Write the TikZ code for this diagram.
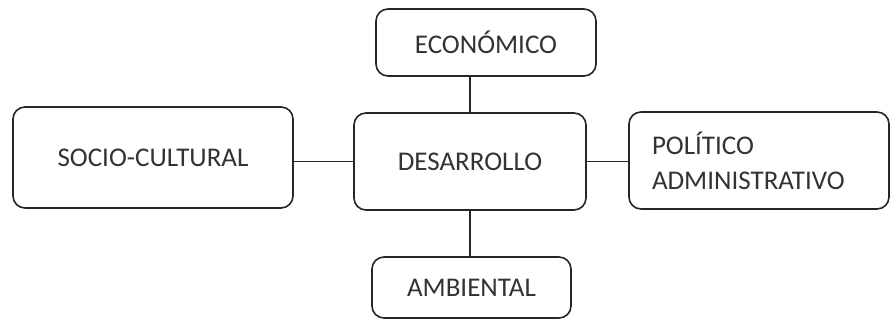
\documentclass[tikz,border=0pt]{standalone}
\usepackage{fontspec}
\setmainfont{Carlito}
\usepackage{tikz}
\usetikzlibrary{positioning}

\begin{document}
\begin{tikzpicture}[x=1pt,y=-1pt,
    area/.style={draw=black!85,line width=1.6pt,rounded corners=12pt,fill=white,
      font=\fontsize{27}{35}\selectfont,text=black!80,inner sep=0pt},
    link/.style={draw=black!85,line width=1.6pt}]
    \useasboundingbox (0,0) rectangle (891,320);
    \node[area,minimum width=232pt,minimum height=97pt] (des) at (470,161.5) {DESARROLLO};
    \node[area,minimum width=220pt,minimum height=67pt] (eco) at (486,42.5) {ECONÓMICO};
    \node[area,minimum width=199pt,minimum height=61pt] (amb) at (471.5,287.5) {AMBIENTAL};
    \node[area,minimum width=280pt,minimum height=101pt] (soc) at (153,157.5) {SOCIO-CULTURAL};
    \node[area,minimum width=260pt,minimum height=97pt,text width=214pt,
      inner xsep=23pt,align=left] (pol) at (759,160.5) {POLÍTICO\\ADMINISTRATIVO};
    \path[link]
    (des.north) -- (des.north |- eco.south)
    (des.south) -- (des.south |- amb.north)
    (des.west) -- (des.west -| soc.east)
    (des.east) -- (des.east -| pol.west)
    ;
  \end{tikzpicture}
\end{document}
